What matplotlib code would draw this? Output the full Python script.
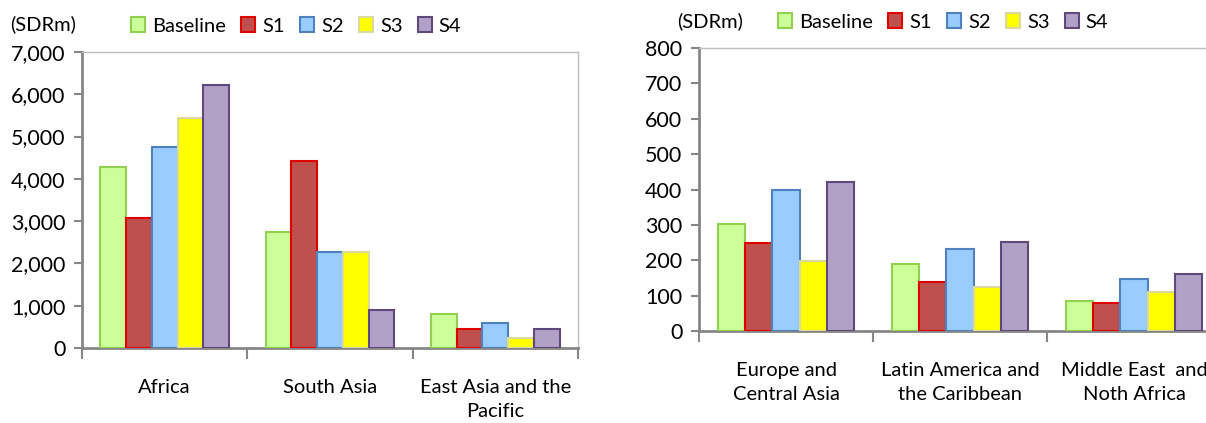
import matplotlib
matplotlib.use('Agg')
import matplotlib.pyplot as plt
from matplotlib.ticker import FuncFormatter
import numpy as np

plt.rcParams['font.family'] = ['Lato', 'DejaVu Sans']

SERIES = ['Baseline', 'S1', 'S2', 'S3', 'S4']
FACE = ['#ccff99', '#c0504d', '#99ccff', '#ffff00', '#b2a1c7']
EDGE = ['#92d050', '#e00000', '#4f81bd', '#d9d9a0', '#5f497a']

regions_a = ['Africa', 'South Asia', 'East Asia and the\nPacific']
baseline_a = [4280, 2740, 810]
s1_a = [3070, 4430, 450]
s2_a = [4760, 2280, 580]
s3_a = [5450, 2280, 245]
s4_a = [6220, 900, 455]

regions_b = ['Europe and\nCentral Asia', 'Latin America and\nthe Caribbean',
             'Middle East  and\nNoth Africa']
baseline_b = [303, 190, 86]
s1_b = [249, 140, 81]
s2_b = [399, 231, 149]
s3_b = [199, 126, 112]
s4_b = [422, 253, 163]

GROUP = 0.78
W = GROUP / len(SERIES)
FS = 14.5


def draw_panel(ax, regions, data, ymax, step, fmt):
    x = np.arange(len(regions)) + 0.5
    handles = []
    for i, vals in enumerate(data):
        pos = x - GROUP / 2 + W * (i + 0.5)
        b = ax.bar(pos, vals, W, color=FACE[i], edgecolor=EDGE[i],
                   linewidth=1.5, label=SERIES[i], zorder=3)
        handles.append(b)
    ax.set_xlim(0, len(regions))
    ax.set_ylim(0, ymax)
    ax.set_yticks(np.arange(0, ymax + 1, step))
    ax.yaxis.set_major_formatter(FuncFormatter(fmt))
    ax.set_xticks(x)
    ax.set_xticklabels(regions, fontsize=FS, linespacing=1.5)
    ax.set_xticks(np.arange(len(regions) + 1), minor=True)
    ax.tick_params(axis='x', which='major', length=0, pad=22)
    ax.tick_params(axis='x', which='minor', length=8, width=1.5,
                   color='#868686', direction='out')
    ax.tick_params(axis='y', length=6, width=1.5, color='#868686',
                   labelsize=15.5, pad=6)
    for s in ['left', 'bottom']:
        ax.spines[s].set_color('#868686')
        ax.spines[s].set_linewidth(2)
    for s in ['top', 'right']:
        ax.spines[s].set_color('#bfbfbf')
        ax.spines[s].set_linewidth(1)
    return handles


fig = plt.figure(figsize=(12.06, 4.23), dpi=100)
FW, FH = 1206, 423

ax1 = fig.add_axes([82 / FW, 1 - 348 / FH, 496 / FW, 296 / FH])
ax2 = fig.add_axes([699 / FW, 1 - 331.3 / FH, 522 / FW, 283.3 / FH])

h1 = draw_panel(ax1, regions_a, [baseline_a, s1_a, s2_a, s3_a, s4_a],
                7000, 1000, lambda v, p: '{:,}'.format(int(v)))
h2 = draw_panel(ax2, regions_b, [baseline_b, s1_b, s2_b, s3_b, s4_b],
                800, 100, lambda v, p: str(int(v)))

legend_kw = dict(ncol=5, frameon=False, fontsize=FS, loc='center left',
                 borderpad=0, borderaxespad=0, handlelength=0.7,
                 handleheight=0.7, handletextpad=0.35, columnspacing=0.75)
fig.legend(handles=h1, bbox_to_anchor=(131 / FW, 1 - 26 / FH), **legend_kw)
fig.legend(handles=h2, bbox_to_anchor=(778 / FW, 1 - 22 / FH), **legend_kw)

fig.text(10 / FW, 1 - 24 / FH, '(SDRm)', fontsize=14.5, va='center')
fig.text(677 / FW, 1 - 21 / FH, '(SDRm)', fontsize=14.5, va='center')

fig.savefig('out.png', dpi=100)
